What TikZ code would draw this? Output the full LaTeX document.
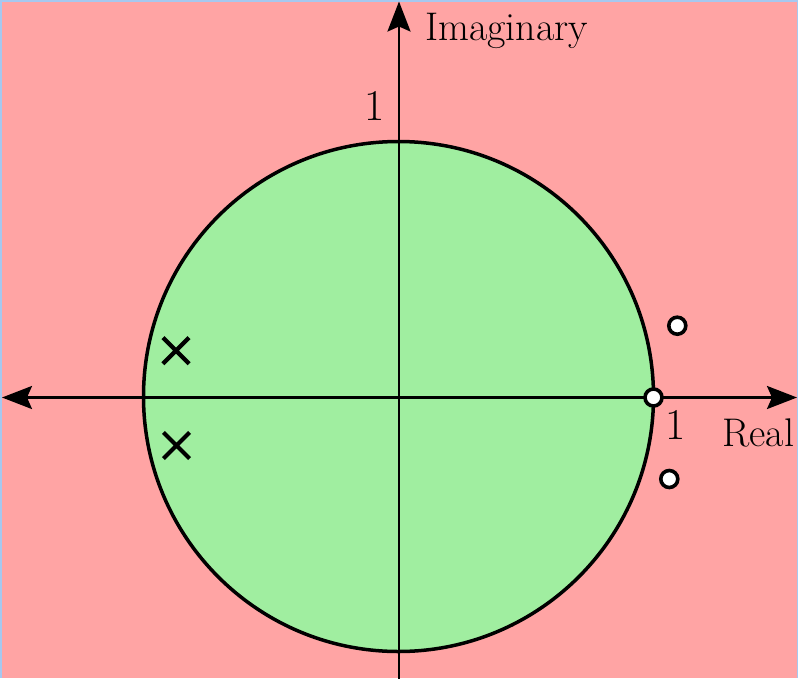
\documentclass[tikz,border=0pt]{standalone}
\usetikzlibrary{arrows.meta,shapes.misc}
\definecolor{bgblue}{RGB}{166,200,240}
\definecolor{regpink}{RGB}{255,164,164}
\definecolor{reggreen}{RGB}{160,238,160}
\tikzset{axistip/.tip={Stealth[length=30pt,width=23pt,inset=5pt]}}
\begin{document}
\begin{tikzpicture}[x=1pt,y=-1pt,
  axisline/.style={line width=2.5pt},
  zeromark/.style={circle,draw=black,fill=white,line width=3.6pt,minimum size=17pt,inner sep=0pt},
  polemark/.style={cross out,draw=black,line width=4.2pt,minimum size=22pt,inner sep=0pt},
  lab/.style={inner sep=0pt,font=\fontsize{40}{44}\selectfont},
  num/.style={inner sep=0pt,font=\fontsize{44}{48}\selectfont}]
\useasboundingbox (0,0) rectangle (798,678);
\fill[bgblue] (0,0) rectangle (798,678);
\fill[regpink] (2,2) rectangle (797,678);
\coordinate (o) at (398.5,396.5);
\draw[fill=reggreen,line width=3.5pt] (o) circle (255);
\coordinate (xl) at (2,397.5);
\coordinate (xr) at (797,397.5);
\coordinate (yb) at (399,679);
\coordinate (yt) at (399,1.5);
\draw[axisline,axistip-axistip] (xl) -- (xr);
\draw[axisline,-axistip] (yb) -- (yt);
\node[polemark] (p1) at (176,350.7) {};
\node[polemark] (p2) at (176.5,445.5) {};
\node[zeromark] (z1) at (677.3,325.7) {};
\node[zeromark] (z2) at (653.5,397.5) {};
\node[zeromark] (z3) at (669.3,479) {};
\node[lab,anchor=base west] (imag) at (425,40.7) {Imaginary};
\node[lab,anchor=base west] (real) at (722,446.7) {Real};
\node[num,anchor=base] (one1) at (374.5,120.7) {1};
\node[num,anchor=base] (one2) at (675.5,439) {1};
\end{tikzpicture}
\end{document}
